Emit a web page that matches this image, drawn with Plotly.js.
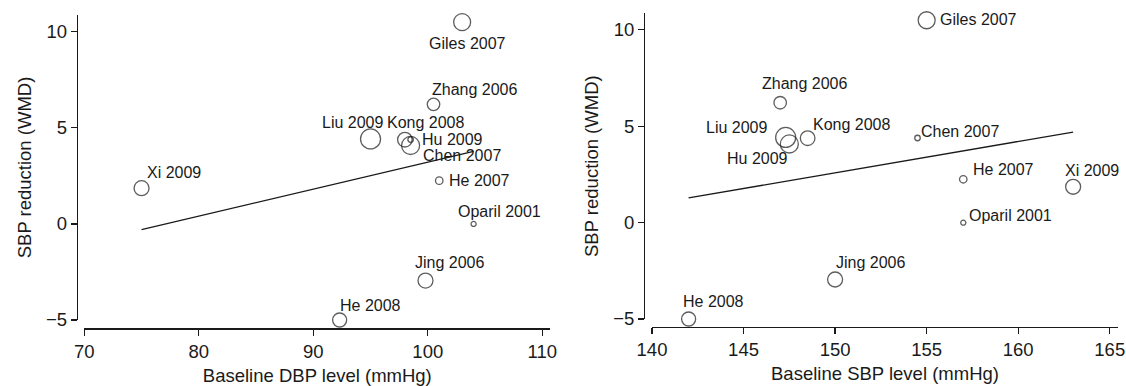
<!DOCTYPE html>
<html><head><meta charset="utf-8">
<script src="https://cdn.plot.ly/plotly-3.0.1.min.js"></script>
<style>html,body{margin:0;padding:0;background:#fff}#chart{width:1126px;height:386px}</style>
</head><body><div id="chart"></div>
<script>
// ---- data ----
const studies = ['Giles 2007','Zhang 2006','Liu 2009','Kong 2008','Hu 2009','Chen 2007','He 2007','Oparil 2001','Xi 2009','Jing 2006','He 2008'];
const wmd = [10.5, 6.22, 4.42, 4.38, 4.08, 4.39, 2.25, 0, 1.86, -2.95, -5];
const baselineDBP = [103, 100.5, 95, 98, 98.5, 98.5, 101, 104, 75, 99.8, 92.3];
const baselineSBP = [155, 147, 147.3, 148.5, 147.5, 154.5, 157, 157, 163, 150, 142];
const studyWeight = [13.5, 7.3, 18.7, 9.9, 15.2, 1.4, 2.6, 1.2, 10.5, 10.5, 9.2];
const fitDBPx = [75, 104];
const fitDBPy = [-0.3, 3.78];
const fitSBPx = [142, 163];
const fitSBPy = [1.28, 4.70];
const xTicksDBP = [70, 80, 90, 100, 110];
const xTicksSBP = [140, 145, 150, 155, 160, 165];
const yTicks = [-5, 0, 5, 10];
const yTickText = ['\u22125', '0', '5', '10'];

// ---- label placement (pixel offsets: left edge dx, centre dy) ----
const labelOffsetDBP = {
  'Giles 2007':[-34,21], 'Zhang 2006':[-3,-15], 'Liu 2009':[-50,-16.6], 'Kong 2008':[-19,-17],
  'Hu 2009':[10.7,-6.3], 'Chen 2007':[11.5,16], 'He 2007':[9,0], 'Oparil 2001':[-16.5,-12.3],
  'Xi 2009':[4.7,-15.4], 'Jing 2006':[-12,-17.7], 'He 2008':[-0.7,-15]
};
const labelOffsetSBP = {
  'Giles 2007':[12,-1], 'Zhang 2006':[-19,-19.7], 'Liu 2009':[-80.4,-10.4], 'Kong 2008':[4,-13.8],
  'Hu 2009':[-63,15], 'Chen 2007':[2.9,-7], 'He 2007':[8.6,-9.3], 'Oparil 2001':[5,-6.7],
  'Xi 2009':[-9,-16.6], 'Jing 2006':[0,-16.7], 'He 2008':[-7,-17.3]
};

const W = 1126, H = 386;
const INK = '#1a1a1a';
const FONT = 'Liberation Sans, Arial, Helvetica, sans-serif';
const px = v => v / W;
const py = v => 1 - v / H;

const markerStyle = {
  size: studyWeight, sizemode: 'area', sizeref: 0.0935,
  color: 'rgba(0,0,0,0)', line: {color: INK, width: 1.3}
};

const traces = [
  {type:'scatter', mode:'markers', x: baselineDBP, y: wmd, text: studies, xaxis:'x', yaxis:'y',
   marker: markerStyle, cliponaxis:false, hoverinfo:'text+x+y'},
  {type:'scatter', mode:'lines', x: fitDBPx, y: fitDBPy, xaxis:'x', yaxis:'y',
   line:{color: INK, width:1.3}, hoverinfo:'skip'},
  {type:'scatter', mode:'markers', x: baselineSBP, y: wmd, text: studies, xaxis:'x2', yaxis:'y2',
   marker: markerStyle, cliponaxis:false, hoverinfo:'text+x+y'},
  {type:'scatter', mode:'lines', x: fitSBPx, y: fitSBPy, xaxis:'x2', yaxis:'y2',
   line:{color: INK, width:1.3}, hoverinfo:'skip'}
];

const annotations = [];
function addLabels(xs, offsets, xref, yref) {
  studies.forEach((s, i) => {
    const o = offsets[s];
    annotations.push({text: s, x: xs[i], y: wmd[i], xref, yref, showarrow:false,
      xanchor:'left', yanchor:'middle', xshift:o[0], yshift:-o[1], borderpad:0,
      font:{family: FONT, size:16, color: INK}});
  });
}
addLabels(baselineDBP, labelOffsetDBP, 'x', 'y');
addLabels(baselineSBP, labelOffsetSBP, 'x2', 'y2');

const FS = 18.5;
function xAxis(domain, range, pos, ticks, title) {
  return {domain, range, anchor:'free', position:pos, tickmode:'array', tickvals:ticks,
    ticks:'outside', ticklen:6, tickwidth:1.2, tickcolor:INK, showline:true, linecolor:INK, linewidth:1.2,
    showgrid:false, zeroline:false, tickfont:{family:FONT, size:FS, color:INK},
    title:{text:title, font:{family:FONT, size:FS, color:INK}, standoff:8}};
}
function yAxis(domain, range, pos) {
  return {domain, range, anchor:'free', position:pos, tickmode:'array', tickvals:yTicks, ticktext:yTickText,
    ticks:'outside', ticklen:6, tickwidth:1.2, tickcolor:INK, showline:true, linecolor:INK, linewidth:1.2,
    showgrid:false, zeroline:false, tickfont:{family:FONT, size:FS, color:INK},
    title:{text:'SBP reduction (WMD)', font:{family:FONT, size:FS, color:INK}, standoff:8}};
}

const layout = {
  width: W, height: H, margin:{l:0, r:0, t:0, b:0},
  paper_bgcolor:'#fff', plot_bgcolor:'rgba(0,0,0,0)', showlegend:false,
  font:{family:FONT, color:INK},
  xaxis: xAxis([px(84.3), px(550.3)], [70, 110.7], py(328.3), xTicksDBP, 'Baseline DBP level (mmHg)'),
  yaxis: yAxis([py(320), py(15)], [-5, 10.87], px(76.7)),
  xaxis2: xAxis([px(652), px(1118)], [140, 165.45], py(326.7), xTicksSBP, 'Baseline SBP level (mmHg)'),
  yaxis2: yAxis([py(319), py(13.3)], [-5, 10.86], px(644)),
  annotations
};

Plotly.newPlot('chart', traces, layout, {staticPlot:true, displayModeBar:false});
</script>
</body></html>
